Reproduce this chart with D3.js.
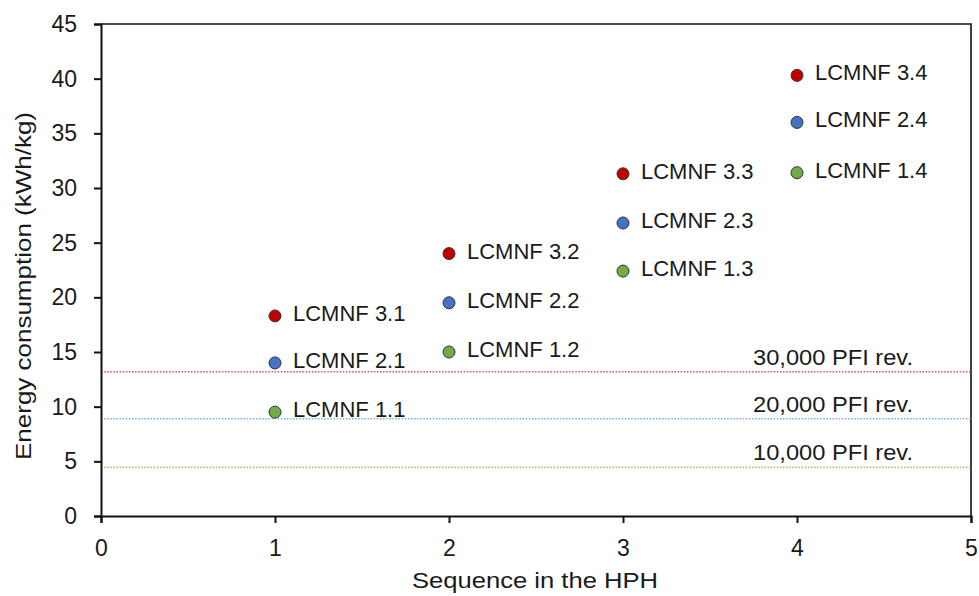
<!DOCTYPE html>
<html><head><meta charset="utf-8">
<script src="https://cdn.jsdelivr.net/npm/d3@7"></script>
<style>body{margin:0;background:#fff}text{font-family:"Liberation Sans",Arial,sans-serif;fill:#1a1a1a}</style>
</head><body><svg id="c" width="979" height="596"></svg>
<script>
const sequence = [1, 2, 3, 4];
const series3 = [18.3, 24.0, 31.3, 40.3];
const series2 = [14.0, 19.5, 26.8, 36.0];
const series1 = [9.5, 15.0, 22.4, 31.4];
const seriesNames = ["3", "2", "1"];
const seriesColors = ["#c00000", "#4472c4", "#70ad47"];
const refValues = [13.2, 8.9, 4.45];
const refLabels = ["30,000 PFI rev.", "20,000 PFI rev.", "10,000 PFI rev."];
const refColors = ["#e0505a", "#7aaede", "#9cc47e"];
const xTicks = [0, 1, 2, 3, 4, 5];
const yTicks = [0, 5, 10, 15, 20, 25, 30, 35, 40, 45];

const svg = d3.select("#c");
const m = {l: 101, r: 8, t: 24, b: 80};
const W = 979, H = 596;
const x = d3.scaleLinear().domain([0, 5]).range([m.l, W - m.r]);
const y = d3.scaleLinear().domain([0, 45]).range([H - m.b, m.t]);

// frame (top and right)
svg.append("path").attr("d", `M${x(0)},${y(45)}H${x(5)}V${y(0)}`).attr("fill","none").attr("stroke","#111").attr("stroke-width",1.6);

// reference lines
refValues.forEach((v,i)=>{
  svg.append("line").attr("x1",x(0)).attr("x2",x(5)).attr("y1",y(v)).attr("y2",y(v))
    .attr("stroke",refColors[i]).attr("stroke-width",1.6).attr("stroke-dasharray","1.5,1.6");
  svg.append("text").attr("x",x(5)-58).attr("y",y(v)-7).attr("text-anchor","end")
    .attr("font-size",22).attr("textLength",160).attr("lengthAdjust","spacingAndGlyphs").text(refLabels[i]);
});

const xa = svg.append("g").attr("transform",`translate(0,${y(0)})`)
  .call(d3.axisBottom(x).tickValues(xTicks).tickSize(7).tickPadding(17).tickFormat(d3.format("d")));
const ya = svg.append("g").attr("transform",`translate(${x(0)},0)`)
  .call(d3.axisLeft(y).tickValues(yTicks).tickSize(7).tickPadding(17).tickFormat(d3.format("d")));
[xa,ya].forEach(a=>{
  a.select(".domain").attr("stroke","#111").attr("stroke-width",2);
  a.selectAll(".tick line").attr("stroke","#111").attr("stroke-width",2);
  a.selectAll(".tick text").attr("font-size",23).attr("fill","#1a1a1a").attr("font-family","Liberation Sans, Arial, sans-serif");
});

// points
const all = [series3, series2, series1];
all.forEach((s,si)=>{
  s.forEach((v,i)=>{
    const cx = x(sequence[i]), cy = y(v);
    svg.append("circle").attr("cx",cx).attr("cy",cy).attr("r",6)
      .attr("fill",seriesColors[si]).attr("stroke","#333").attr("stroke-width",1);
    svg.append("text").attr("x",cx+18).attr("y",cy+5).attr("font-size",22)
      .text(`LCMNF ${seriesNames[si]}.${sequence[i]}`);
  });
});

svg.append("text").attr("x",535).attr("y",588).attr("text-anchor","middle")
  .attr("font-size",22).attr("textLength",246).attr("lengthAdjust","spacingAndGlyphs").text("Sequence in the HPH");
svg.append("text").attr("transform",`translate(31,286) rotate(-90)`).attr("text-anchor","middle")
  .attr("font-size",22).attr("textLength",348).attr("lengthAdjust","spacingAndGlyphs").text("Energy consumption (kWh/kg)");
</script></body></html>
